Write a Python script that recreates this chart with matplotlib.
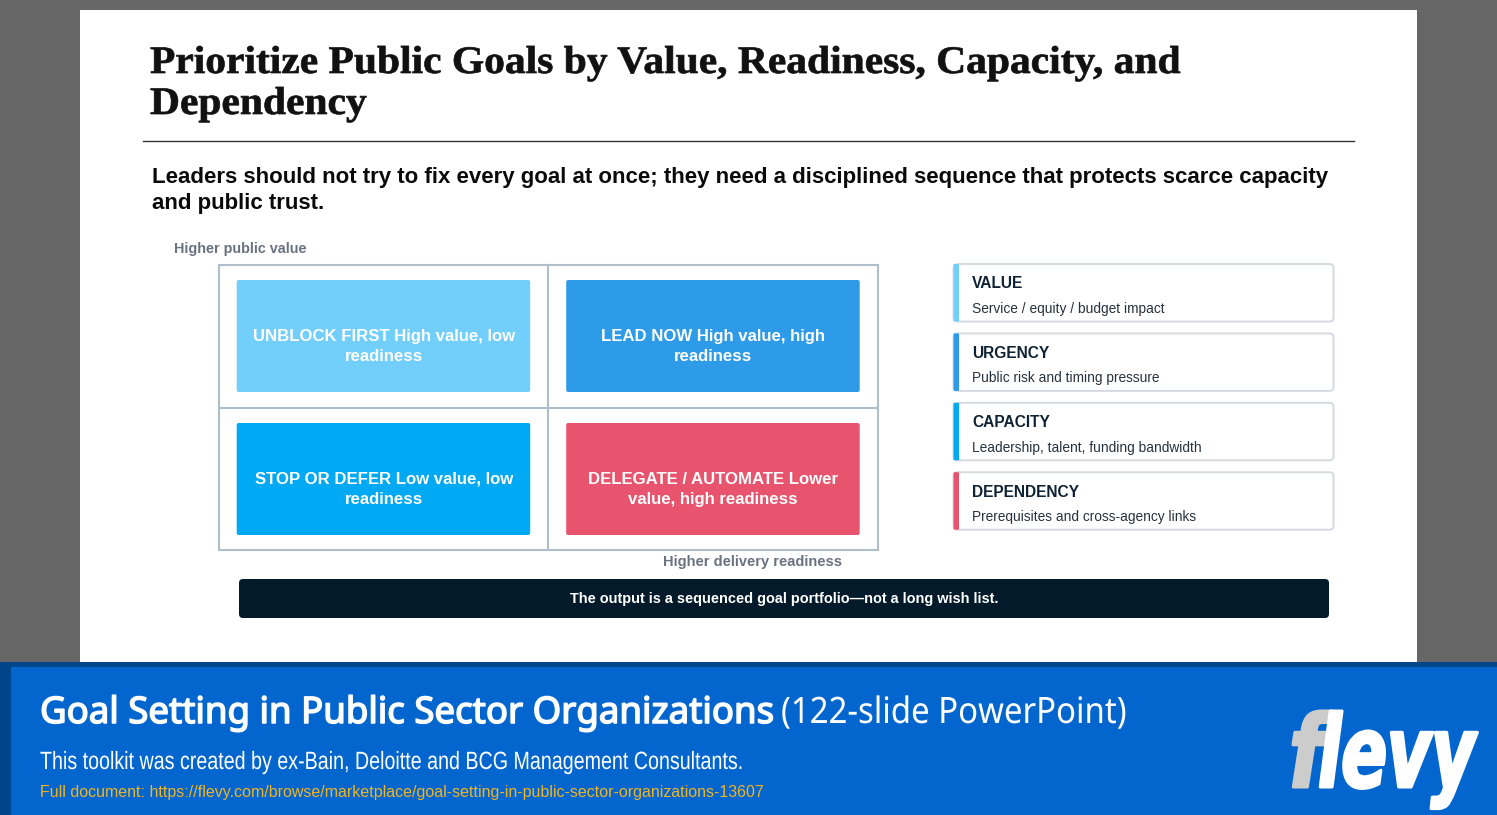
import matplotlib
matplotlib.use('Agg')
import matplotlib.pyplot as plt
from matplotlib.patches import Rectangle, FancyBboxPatch
from matplotlib.transforms import Affine2D
import matplotlib.patheffects as pe

W, H = 1497, 815

title_lines = ['Prioritize Public Goals by Value, Readiness, Capacity, and', 'Dependency']
sub_lines = ['Leaders should not try to fix every goal at once; they need a disciplined sequence that protects scarce capacity',
             'and public trust.']
quad_labels = [['UNBLOCK FIRST High value, low', 'readiness'],
               ['LEAD NOW High value, high', 'readiness'],
               ['STOP OR DEFER Low value, low', 'readiness'],
               ['DELEGATE / AUTOMATE Lower', 'value, high readiness']]
quad_colors = ['#72CEFA', '#2E9BE8', '#00A9F4', '#E8546E']
card_heads = ['VALUE', 'URGENCY', 'CAPACITY', 'DEPENDENCY']
card_texts = ['Service / equity / budget impact', 'Public risk and timing pressure',
              'Leadership, talent, funding bandwidth', 'Prerequisites and cross-agency links']
card_colors = ['#72CEFA', '#2E9BE8', '#00A9F4', '#E8546E']

def px(s):
    return s * 0.72

# narrows or widens a text around x0, optionally fattening it with a stroke
class Squeeze(pe.AbstractPathEffect):
    def __init__(self, x0, sx, sw=0):
        super().__init__()
        self.x0, self.sx, self.sw = x0, sx, sw

    def draw_path(self, renderer, gc, tpath, affine, rgbFace=None):
        a = affine + Affine2D().translate(-self.x0, 0).scale(self.sx, 1).translate(self.x0, 0)
        gc0 = renderer.new_gc()
        gc0.copy_properties(gc)
        if self.sw:
            gc0.set_linewidth(self.sw)
            gc0.set_foreground(rgbFace)
        else:
            gc0.set_linewidth(0)
        renderer.draw_path(gc0, tpath, a, rgbFace)
        gc0.restore()

fig = plt.figure(figsize=(W / 100, H / 100), dpi=100, facecolor='#666666')
ax = fig.add_axes([0, 0, 1, 1])
ax.set_xlim(0, W)
ax.set_ylim(H, 0)
ax.axis('off')

# slide
ax.add_patch(Rectangle((80, 10), 1337, 660, fc='white', ec='none'))
for i, t in enumerate(title_lines):
    ax.text(150, 63.5 + i * 41, t, family='Liberation Serif', weight='bold', fontsize=px(39), color='#111111', va='center',
            path_effects=[Squeeze(150, 1.064, 0.5)])
ax.plot([143, 1354], [141, 141], color='#333333', lw=1)
for i, t in enumerate(sub_lines):
    ax.text(152, 177.5 + i * 26.5, t, family='Liberation Sans', weight='bold', fontsize=px(22.25), color='#0a0a0a', va='center')

# matrix
ax.text(174, 248.5, 'Higher public value', family='Liberation Sans', weight='bold', fontsize=px(14.4), color='#6B7280', va='center')
ax.text(663, 562, 'Higher delivery readiness', family='Liberation Sans', weight='bold', fontsize=px(14.6), color='#6B7280', va='center')
ax.add_patch(Rectangle((219, 265), 659, 285, fc='none', ec='#B0BEC9', lw=1.5))
ax.plot([548, 548], [265, 550], color='#B0BEC9', lw=1.5)
ax.plot([219, 878], [407.5, 407.5], color='#B0BEC9', lw=1.5)
for i, (lab, c) in enumerate(zip(quad_labels, quad_colors)):
    x0 = 236.7 + (i % 2) * 329.5
    y0 = 280 + (i // 2) * 143
    ax.add_patch(FancyBboxPatch((x0 + 1, y0 + 1), 291.5, 110, boxstyle='round,pad=1,rounding_size=2', fc=c, ec='none'))
    for j, t in enumerate(lab):
        ax.text(x0 + 147, y0 + 56.5 + j * 20, t, family='Liberation Sans', weight='bold', fontsize=px(16.7), color='white', ha='center', va='center')

# cards
for i in range(4):
    y0 = 264 + i * 69.4
    ax.add_patch(FancyBboxPatch((955.5, y0 + 2), 376, 53.5, boxstyle='round,pad=2,rounding_size=4', fc='white', ec='#D5DAE1', lw=1.4))
    ax.add_patch(FancyBboxPatch((953.5, y0), 5.5, 57.5, boxstyle='round,pad=0,rounding_size=1', fc=card_colors[i], ec='none'))
    ax.text(972, y0 + 20, card_heads[i], family='Liberation Sans', weight='bold', fontsize=px(15.5), color='#0F2233', va='center')
    ax.text(972, y0 + 45, card_texts[i], family='Liberation Sans', fontsize=px(13.8), color='#26323D', va='center')

# takeaway bar
ax.add_patch(FancyBboxPatch((241, 581), 1086, 35, boxstyle='round,pad=2,rounding_size=4', fc='#021A29', ec='none'))
ax.text(784, 599, 'The output is a sequenced goal portfolio\u2014not a long wish list.', family='Liberation Sans', weight='bold',
        fontsize=px(14.5), color='white', ha='center', va='center')

# footer banner
ax.add_patch(Rectangle((0, 662), W, H - 662, fc='#004589', ec='none'))
ax.add_patch(Rectangle((11, 667), W - 11, H - 667, fc='#0366CE', ec='none'))
ax.text(40, 714, 'Goal Setting in Public Sector Organizations', family='Noto Sans', fontsize=px(36.6), color='white', va='center',
        path_effects=[Squeeze(40, 1.0, 1.1)])
ax.text(781, 714, '(122-slide PowerPoint)', family='Noto Sans', fontsize=px(36.4), color='white', va='center',
        path_effects=[Squeeze(781, 0.905)])
ax.text(40, 762, 'This toolkit was created by ex-Bain, Deloitte and BCG Management Consultants.', family='Liberation Sans',
        fontsize=px(25), color='white', va='center', path_effects=[Squeeze(40, 0.787)])
ax.text(40, 792, 'Full document: https://flevy.com/browse/marketplace/goal-setting-in-public-sector-organizations-13607',
        family='Liberation Sans', fontsize=px(16), color='#F0B323', va='center')

# logo
ax.text(1289, 787, 'f', family='DejaVu Sans', weight='bold', style='oblique', fontsize=px(100), color='#CCCCCC',
        va='baseline', ha='left', path_effects=[Squeeze(1289, 0.8, 2.2)])
ax.text(1475, 787, 'levy', family='DejaVu Sans', weight='bold', style='oblique', fontsize=px(100), color='white',
        va='baseline', ha='right', path_effects=[Squeeze(1475, 0.675, 2.2)])

fig.savefig('out.png', dpi=100, facecolor=fig.get_facecolor())
